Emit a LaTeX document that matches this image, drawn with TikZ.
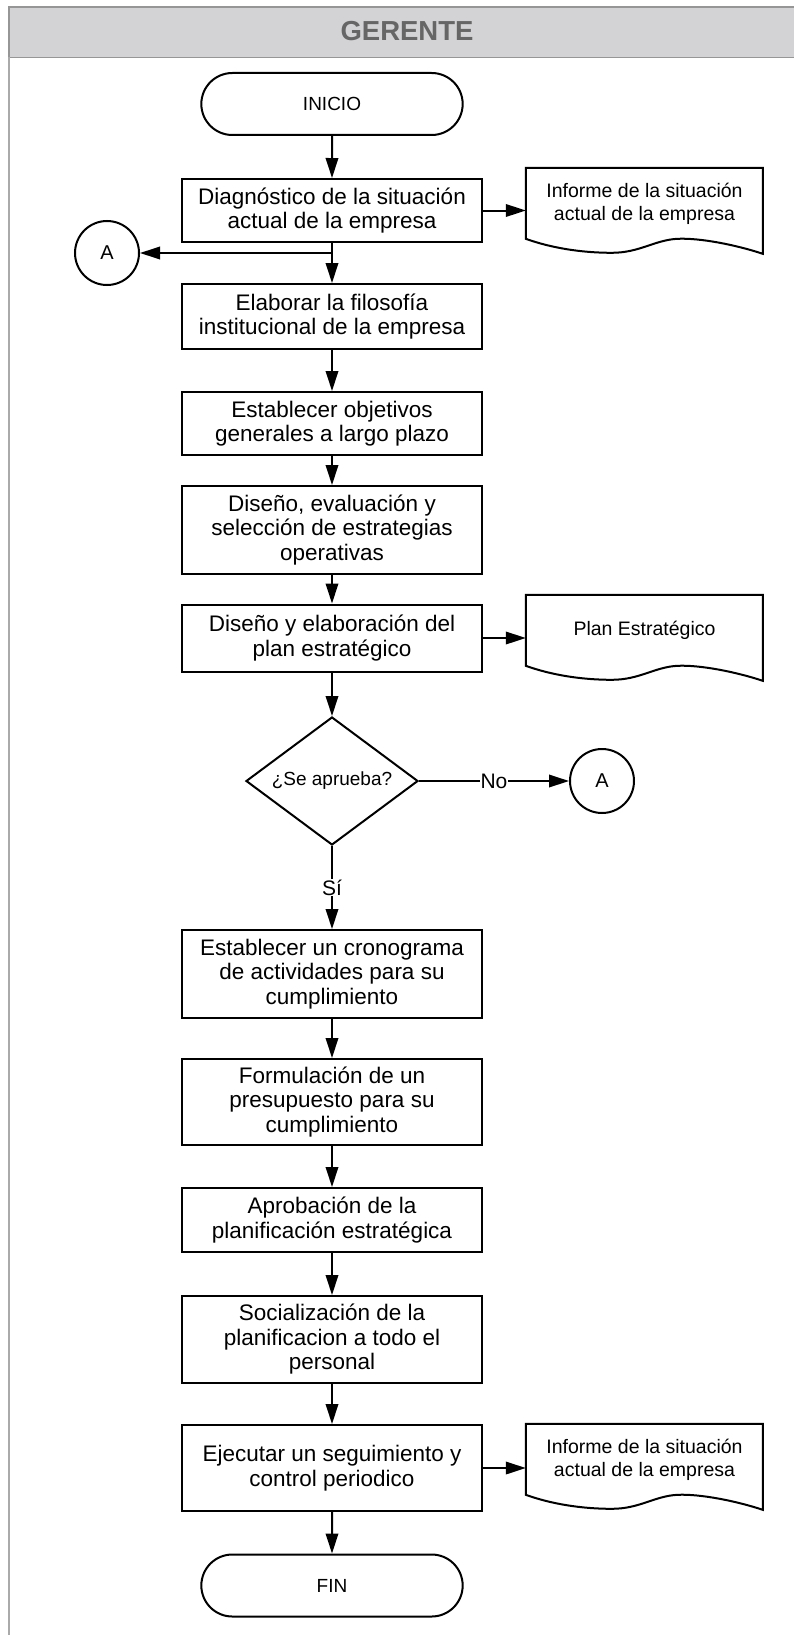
\documentclass[tikz,border=0pt]{standalone}
\usepackage{fontspec}
\setmainfont{Liberation Sans}
\usetikzlibrary{shapes.geometric,shapes.misc,arrows.meta}
\definecolor{headgray}{RGB}{211,211,213}
\definecolor{headline}{RGB}{150,150,150}
\definecolor{lanegray}{RGB}{170,170,170}
\definecolor{titlegray}{RGB}{102,102,102}

% outline of a document symbol, hung on the node's north west corner
\newcommand{\docshape}[1]{%
  \begin{scope}[shift={(#1.north west)}]
    \draw[line width=2pt] (0,0) -- (237,0) -- (237,86)
      .. controls (210,77) and (174,70) .. (152,71)
      .. controls (129,72) and (114,85) .. (86,85)
      .. controls (55,85) and (25,80) .. (0,71) -- cycle;
  \end{scope}}

\begin{document}
\begin{tikzpicture}[x=1pt,y=-1pt,
    box/.style={draw, line width=2pt, minimum width=300pt, inner sep=0pt, align=center, font=\fontsize{22.5}{24.5}\selectfont},
    term/.style={draw, rounded rectangle, line width=2pt, minimum width=268pt, minimum height=62pt, font=\fontsize{19}{22}\selectfont},
    doc/.style={minimum width=237pt, minimum height=71pt, inner sep=0pt, align=center, font=\fontsize{19.5}{23}\selectfont},
    conn/.style={draw, circle, line width=2pt, minimum size=64pt, inner sep=0pt, font=\fontsize{20}{24}\selectfont},
    flow/.style={line width=2pt, -{Triangle[length=20pt,width=12.5pt]}},
    lbl/.style={fill=white, inner sep=1pt, font=\fontsize{21}{24}\selectfont}]
    \useasboundingbox (0,0) rectangle (793,1635);

    % Lane
    \draw[headline, fill=headgray, line width=1.5pt] (9,7) rectangle (806,57.5);
    \draw[lanegray, line width=2pt] (9,57.5) -- (9,1640);
    \node[text=titlegray, font=\fontsize{27.5}{30}\selectfont\bfseries] (title) at (407,31) {GERENTE};

    % Start
    \node[term] (inicio) at (332,104) {INICIO};

    % Planning
    \node[box, minimum height=63pt] (diag) at (332,210.5) {Diagnóstico de la situación\\actual de la empresa};
    \node[doc] (inf1) at (644.5,203.5) {Informe de la situación\\actual de la empresa};
    \docshape{inf1}
    \node[conn] (conA) at (107,253) {A};
    \node[box, minimum height=65pt] (filo) at (332,316.5) {Elaborar la filosofía\\institucional de la empresa};
    \node[box, minimum height=63pt] (obj) at (332,423.5) {Establecer objetivos\\generales a largo plazo};
    \node[box, minimum height=88pt] (estr) at (332,530) {Diseño, evaluación y\\selección de estrategias\\operativas};
    \node[box, minimum height=67pt] (plan) at (332,638) {Diseño y elaboración del\\plan estratégico};
    \node[doc] (pe) at (644.5,630.5) {Plan Estratégico};
    \docshape{pe}

    % Decision
    \node[draw, diamond, aspect=1.34, line width=2pt, inner sep=0pt, minimum width=172pt, minimum height=128pt, font=\fontsize{19}{22}\selectfont] (aprueba) at (332,781) {¿Se aprueba?};
    \node[conn] (conB) at (602,781) {A};

    % Execution
    \node[box, minimum height=88pt] (crono) at (332,974) {Establecer un cronograma\\de actividades para su\\cumplimiento};
    \node[box, minimum height=86pt] (presu) at (332,1102) {Formulación de un\\presupuesto para su\\cumplimiento};
    \node[box, minimum height=64pt] (aprob) at (332,1220) {Aprobación de la\\planificación estratégica};
    \node[box, minimum height=87pt] (social) at (332,1339.5) {Socialización de la\\planificacion a todo el\\personal};
    \node[box, minimum height=86pt] (segui) at (332,1468) {Ejecutar un seguimiento y\\control periodico};
    \node[doc] (inf2) at (644.5,1459.5) {Informe de la situación\\actual de la empresa};
    \docshape{inf2}

    % End
    \node[term] (fin) at (332,1585.5) {FIN};

    % Arrows
    \draw[flow] (inicio) -- (diag);
    \draw[flow] (diag.east) -- (diag.east -| inf1.west);
    \draw[flow] (diag) -- (filo);
    \draw[flow] (diag.south |- conA) -- (conA);
    \draw[flow] (filo) -- (obj);
    \draw[flow] (obj) -- (estr);
    \draw[flow] (estr) -- (plan);
    \draw[flow] (plan.east) -- (plan.east -| pe.west);
    \draw[flow] (plan) -- (aprueba);
    \draw[flow] (aprueba) -- node[lbl] (no) {No} (conB);
    \draw[flow] (aprueba) -- node[lbl] (si) {Sí} (crono);
    \draw[flow] (crono) -- (presu);
    \draw[flow] (presu) -- (aprob);
    \draw[flow] (aprob) -- (social);
    \draw[flow] (social) -- (segui);
    \draw[flow] (segui.east) -- (segui.east -| inf2.west);
    \draw[flow] (segui) -- (fin);
\end{tikzpicture}
\end{document}
